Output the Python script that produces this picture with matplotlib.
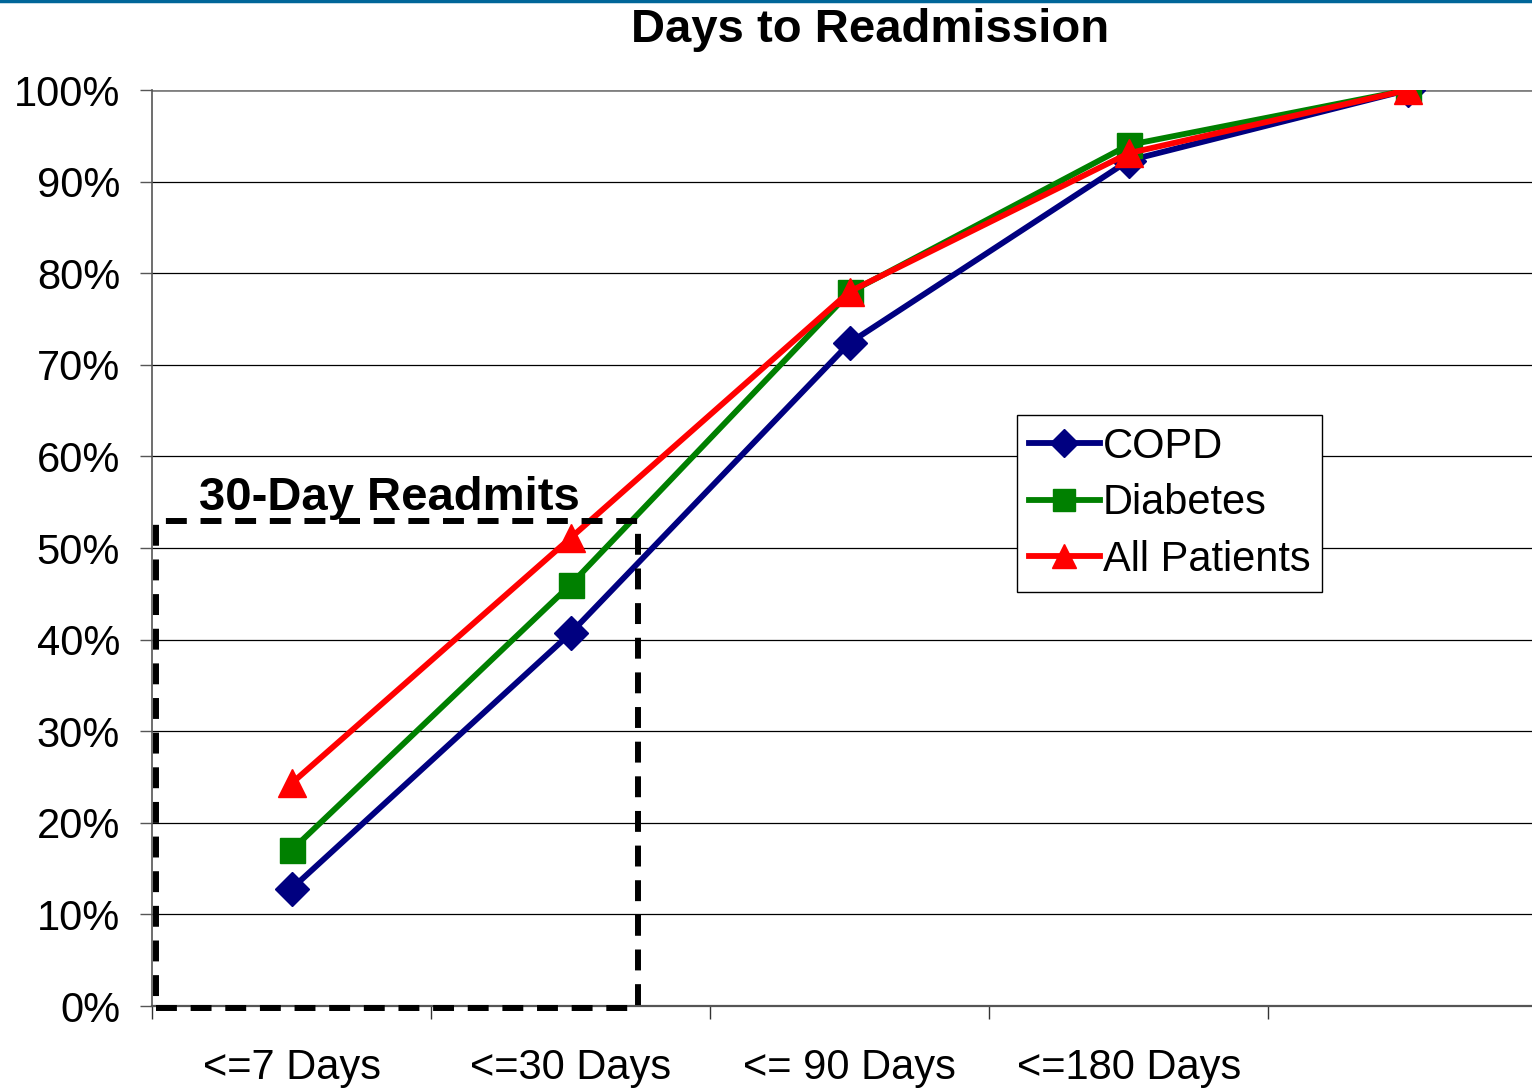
import matplotlib
matplotlib.use('Agg')
import matplotlib.pyplot as plt
from matplotlib.patches import Rectangle
from matplotlib.lines import Line2D

plt.rcParams['font.family'] = ['Liberation Sans', 'DejaVu Sans']

# ── 데이터 ──
categories = ['<=7 Days', '<=30 Days', '<= 90 Days', '<=180 Days', '']
copd = [12.8, 40.7, 72.4, 92.3, 100.0]
diabetes = [17.0, 46.0, 77.9, 94.0, 100.0]
all_patients = [24.3, 51.1, 78.0, 93.1, 100.0]
y_ticks = [0, 10, 20, 30, 40, 50, 60, 70, 80, 90, 100]

# 30-day 박스 (카테고리 단위 / %)
box_x0, box_x1 = -0.487, 1.24
box_top = 52.9

fig = plt.figure(figsize=(15.32, 10.9), dpi=100)
ax = fig.add_axes([152 / 1532, 84 / 1090, 1 - 152 / 1532, 916 / 1090])

x = list(range(len(categories)))
lw = 4.2
ax.plot(x, copd, color='#000080', lw=lw, marker='D', ms=17, label='COPD', zorder=3)
ax.plot(x, diabetes, color='#008000', lw=lw, marker='s', ms=18, label='Diabetes', zorder=4)
ax.plot(x, all_patients, color='#FF0000', lw=lw, marker='^', ms=20, label='All Patients', zorder=5)

ax.set_xlim(-0.5, 4.445)
ax.set_ylim(0, 100)

# 그리드
for v in y_ticks[1:-1]:
    ax.axhline(v, color='black', lw=0.9, zorder=1)
ax.axhline(100, color='#808080', lw=2, zorder=1)

# 축 스타일
for s in ['top', 'right']:
    ax.spines[s].set_visible(False)
ax.spines['left'].set_color('#555555')
ax.spines['left'].set_linewidth(1.2)
ax.spines['bottom'].set_color('#555555')
ax.spines['bottom'].set_linewidth(1.6)

ax.set_yticks(y_ticks)
ax.set_yticklabels([f'{v}%' for v in y_ticks], fontsize=30)
ax.tick_params(axis='y', length=9, width=1, color='#555555', pad=14)

ax.set_xticks([i - 0.5 for i in range(len(categories))])
ax.set_xticklabels([])
ax.tick_params(axis='x', which='major', length=9, width=1, color='#333333')
ax.set_xticks(x, minor=True)
ax.set_xticklabels(categories, minor=True, fontsize=30)
ax.tick_params(axis='x', which='minor', length=0, pad=30)

# 30-Day 박스
rect = Rectangle((box_x0, -0.2), box_x1 - box_x0, box_top + 0.2, fill=False,
                 edgecolor='black', lw=4.3, linestyle=(0, (3.5, 2.3)),
                 zorder=6, clip_on=False)
ax.add_patch(rect)
ax.text(-0.333, 54.1, '30-Day Readmits', fontsize=34, fontweight='bold',
        ha='left', va='baseline', zorder=7)

leg = ax.legend(loc='upper left', bbox_to_anchor=(1017 / 1532, 1 - 415 / 1090),
                bbox_transform=fig.transFigure, fontsize=30, frameon=True,
                fancybox=False, edgecolor='black', framealpha=1,
                handlelength=1.7, handletextpad=0.08, labelspacing=0.4,
                borderpad=0.28, borderaxespad=0, markerscale=0.85)
leg.get_frame().set_linewidth(1.0)
leg.set_zorder(10)

fig.text(870 / 1532, 1 - 30 / 1090, 'Days to Readmission', fontsize=34,
         fontweight='bold', ha='center', va='center')

# 상단 파란 선
fig.add_artist(Line2D([0, 1], [0.9992, 0.9992], color='#006699', lw=2.5,
                      transform=fig.transFigure))

fig.savefig('out.png', dpi=100)
